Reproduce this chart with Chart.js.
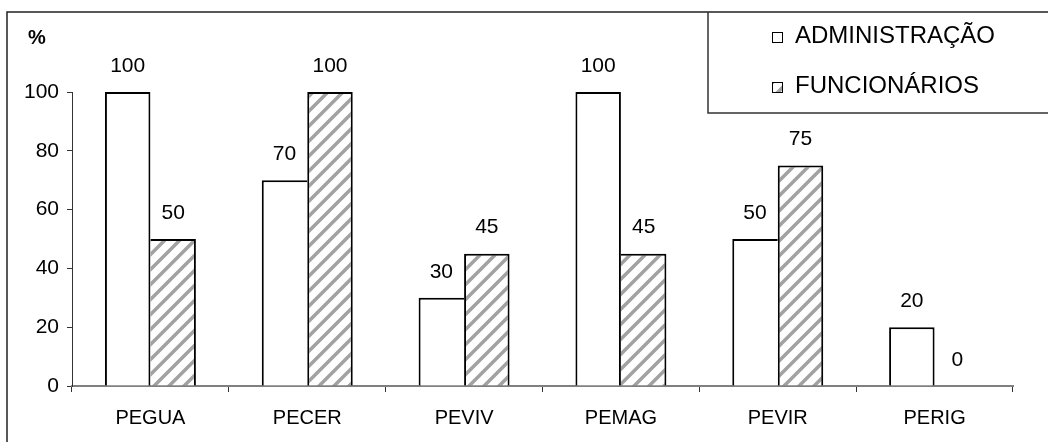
<!DOCTYPE html>
<html>
<head>
<meta charset="utf-8">
<script src="https://cdn.jsdelivr.net/npm/chart.js@4.4.1/dist/chart.umd.min.js"></script>
<style>
  html, body { margin: 0; padding: 0; background: #fff; }
  canvas { display: block; }
</style>
</head>
<body>
<canvas id="chart" width="1048" height="442"></canvas>
<script>
const categories = ['PEGUA', 'PECER', 'PEVIV', 'PEMAG', 'PEVIR', 'PERIG'];
const administracao = [100, 70, 30, 100, 50, 20];
const funcionarios = [50, 100, 45, 45, 75, 0];
const yTicks = [0, 20, 40, 60, 80, 100];

const SANS = '"Liberation Sans", Arial, sans-serif';

// diagonal grey hatching for the second series
function makeHatch() {
    const c = document.createElement('canvas');
    c.width = 15;
    c.height = 15;
    const g = c.getContext('2d');
    g.fillStyle = '#fff';
    g.fillRect(0, 0, 15, 15);
    g.strokeStyle = '#a2a2a2';
    g.lineWidth = 3.5;
    g.beginPath();
    g.moveTo(-5, 20); g.lineTo(20, -5);
    g.moveTo(-5, 5); g.lineTo(5, -5);
    g.moveTo(10, 20); g.lineTo(20, 10);
    g.stroke();
    return g.createPattern(c, 'repeat');
}
const hatch = makeHatch();

// the shared edge of a pair is drawn once, by the taller bar
function adminBorder(c) {
    const i = c.dataIndex;
    return { top: 2, left: 2, bottom: 0, right: administracao[i] > funcionarios[i] ? 2 : 0 };
}
function funcBorder(c) {
    const i = c.dataIndex;
    return { top: 2, right: 2, bottom: 0, left: funcionarios[i] >= administracao[i] ? 2 : 0 };
}

// white page, outer frame, "%" caption and the boxed legend
const frame = {
    id: 'frame',
    beforeDraw(chart) {
        const ctx = chart.ctx;
        ctx.save();
        ctx.fillStyle = '#fff';
        ctx.fillRect(0, 0, chart.width, chart.height);
        ctx.strokeStyle = '#222';
        ctx.lineWidth = 1.5;
        ctx.beginPath();
        ctx.moveTo(7, chart.height);
        ctx.lineTo(7, 12);
        ctx.lineTo(chart.width, 12);
        ctx.stroke();
        ctx.restore();
    },
    afterDraw(chart) {
        const ctx = chart.ctx;
        ctx.save();
        ctx.fillStyle = '#000';
        ctx.font = 'bold 20px ' + SANS;
        ctx.textAlign = 'center';
        ctx.textBaseline = 'middle';
        ctx.fillText('%', 37, 38);

        ctx.strokeStyle = '#333';
        ctx.lineWidth = 1.5;
        ctx.beginPath();
        ctx.moveTo(708, 12);
        ctx.lineTo(708, 113);
        ctx.lineTo(chart.width, 113);
        ctx.stroke();

        ctx.font = '24px ' + SANS;
        ctx.textAlign = 'left';
        chart.data.datasets.forEach((ds, i) => {
            const cy = 37 + i * 50;
            ctx.fillStyle = ds.backgroundColor;
            ctx.fillRect(772, cy - 5, 10, 10);
            ctx.strokeStyle = '#000';
            ctx.lineWidth = 1;
            ctx.strokeRect(772.5, cy - 4.5, 10, 10);
            ctx.fillStyle = '#000';
            ctx.fillText(ds.label, 795, cy - 1);
        });
        ctx.restore();
    }
};

// value printed above each bar
const valueLabels = {
    id: 'valueLabels',
    afterDatasetsDraw(chart) {
        const ctx = chart.ctx;
        ctx.save();
        ctx.font = '21px ' + SANS;
        ctx.fillStyle = '#000';
        ctx.textAlign = 'center';
        ctx.textBaseline = 'middle';
        chart.data.datasets.forEach((ds, i) => {
            chart.getDatasetMeta(i).data.forEach((bar, j) => {
                ctx.fillText(String(ds.data[j]), bar.x, bar.y - 26);
            });
        });
        ctx.restore();
    }
};

new Chart(document.getElementById('chart'), {
    type: 'bar',
    data: {
        labels: categories,
        datasets: [
            {
                label: 'ADMINISTRAÇÃO',
                data: administracao,
                backgroundColor: '#fff',
                borderColor: '#000',
                borderWidth: adminBorder,
                borderSkipped: 'start',
                barPercentage: 1,
                categoryPercentage: 0.58,
            },
            {
                label: 'FUNCIONÁRIOS',
                data: funcionarios,
                backgroundColor: hatch,
                borderColor: '#000',
                borderWidth: funcBorder,
                borderSkipped: 'start',
                barPercentage: 1,
                categoryPercentage: 0.58,
            },
        ],
    },
    options: {
        responsive: false,
        animation: false,
        devicePixelRatio: 1,
        layout: { padding: { top: 92, right: 35, bottom: 0, left: 0 } },
        plugins: {
            legend: { display: false },
            tooltip: { enabled: false },
        },
        scales: {
            x: {
                offset: true,
                grid: { display: true, drawOnChartArea: false, tickLength: 6, color: '#333', offset: true },
                border: { display: true, color: '#808080', width: 2 },
                ticks: { font: { family: SANS, size: 20 }, color: '#000', padding: 14 },
                afterFit(scale) { scale.height = 56; },
            },
            y: {
                min: 0,
                max: 100,
                afterBuildTicks(scale) { scale.ticks = yTicks.map(v => ({ value: v })); },
                grid: { display: true, drawOnChartArea: false, tickLength: 5, color: '#333' },
                border: { display: true, color: '#333', width: 1 },
                ticks: { font: { family: SANS, size: 21 }, color: '#000', padding: 8 },
                afterFit(scale) { scale.width = 72; },
            },
        },
    },
    plugins: [frame, valueLabels],
});
</script>
</body>
</html>
